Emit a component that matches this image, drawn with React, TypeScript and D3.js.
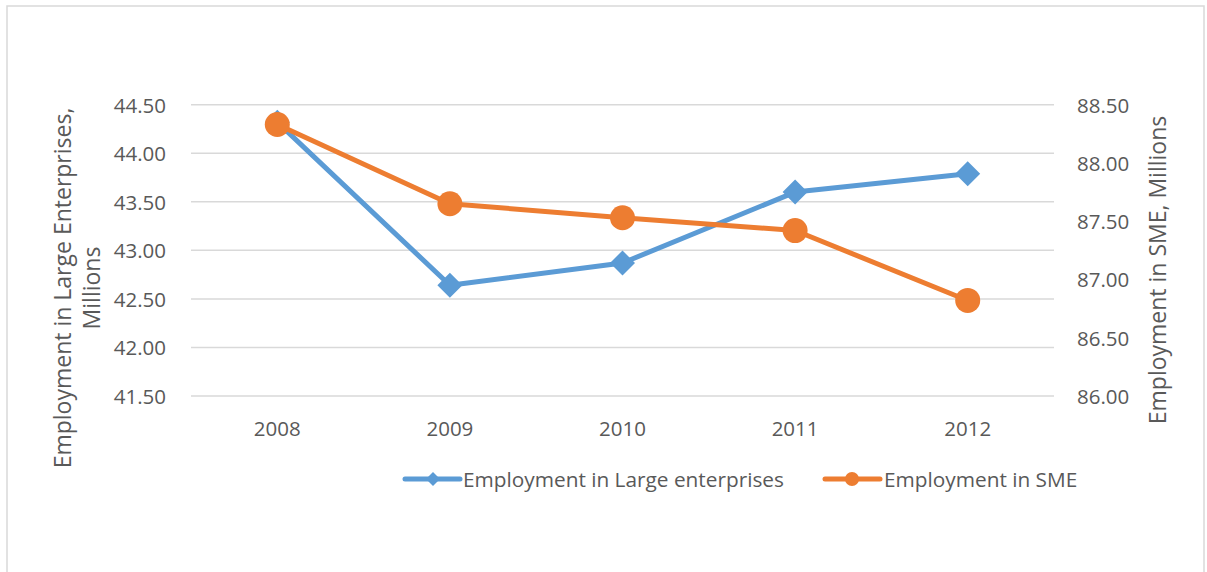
import React from "react";
import * as d3 from "d3";

const years = ["2008", "2009", "2010", "2011", "2012"];
const largeEmployment = [44.32, 42.64, 42.87, 43.6, 43.79];
const smeEmployment = [88.33, 87.65, 87.53, 87.42, 86.82];
const leftTicks = [41.5, 42.0, 42.5, 43.0, 43.5, 44.0, 44.5];
const rightTicks = [86.0, 86.5, 87.0, 87.5, 88.0, 88.5];
const seriesNames = ["Employment in Large enterprises", "Employment in SME"];

const W = 1207;
const H = 572;
const BLUE = "#5B9BD5";
const ORANGE = "#ED7D31";
const TEXT = "#595959";
const GRID = "#D9D9D9";
const FONT = "'Open Sans', 'Liberation Sans', sans-serif";

export default function App() {
  const plot = { left: 191, right: 1054, top: 104.7, bottom: 396 };

  const x = d3.scaleBand<string>().domain(years).range([plot.left, plot.right]);
  const cx = (y: string) => (x(y) as number) + x.bandwidth() / 2;
  const yL = d3.scaleLinear().domain([41.5, 44.5]).range([plot.bottom, plot.top]);
  const yR = d3.scaleLinear().domain([86, 88.5]).range([plot.bottom, plot.top]);

  const lineL = d3
    .line<number>()
    .x((_, i) => cx(years[i]))
    .y((v) => yL(v));
  const lineR = d3
    .line<number>()
    .x((_, i) => cx(years[i]))
    .y((v) => yR(v));

  const diamond = (px: number, py: number, r: number) =>
    `M${px},${py - r}L${px + r},${py}L${px},${py + r}L${px - r},${py}Z`;

  const legendY = 479;

  return (
    <svg
      width={W}
      height={H}
      style={{ position: "absolute", left: 0, top: 0, background: "#fff" }}
      fontFamily={FONT}
    >
      <rect x={7} y={6} width={1197} height={600} fill="#fff" stroke={GRID} strokeWidth={1.5} />

      {/* horizontal gridlines on the primary axis */}
      {leftTicks.map((t) => (
        <line
          key={"g" + t}
          x1={plot.left}
          x2={plot.right}
          y1={yL(t)}
          y2={yL(t)}
          stroke={GRID}
          strokeWidth={1.5}
        />
      ))}

      {/* left axis labels */}
      {leftTicks.map((t) => (
        <text
          key={"l" + t}
          x={166}
          y={yL(t)}
          textAnchor="end"
          dominantBaseline="central"
          fontSize={20.5}
          fill={TEXT}
        >
          {t.toFixed(2)}
        </text>
      ))}

      {/* right axis labels */}
      {rightTicks.map((t) => (
        <text
          key={"r" + t}
          x={1077}
          y={yR(t)}
          textAnchor="start"
          dominantBaseline="central"
          fontSize={20.5}
          fill={TEXT}
        >
          {t.toFixed(2)}
        </text>
      ))}

      {/* category labels */}
      {years.map((yr) => (
        <text
          key={"c" + yr}
          x={cx(yr)}
          y={428}
          textAnchor="middle"
          dominantBaseline="central"
          fontSize={20.5}
          fill={TEXT}
        >
          {yr}
        </text>
      ))}

      {/* axis titles */}
      <text
        transform={`translate(62,288) rotate(-90)`}
        textAnchor="middle"
        dominantBaseline="central"
        fontSize={23}
        fill={TEXT}
      >
        Employment in Large Enterprises,
      </text>
      <text
        transform={`translate(91,288) rotate(-90)`}
        textAnchor="middle"
        dominantBaseline="central"
        fontSize={23}
        fill={TEXT}
      >
        Millions
      </text>
      <text
        transform={`translate(1157,270) rotate(-90)`}
        textAnchor="middle"
        dominantBaseline="central"
        fontSize={23}
        fill={TEXT}
      >
        Employment in SME, Millions
      </text>

      {/* series: large enterprises */}
      <path d={lineL(largeEmployment) as string} fill="none" stroke={BLUE} strokeWidth={5} strokeLinejoin="round" />
      {largeEmployment.map((v, i) => (
        <path key={"d" + i} d={diamond(cx(years[i]), yL(v), 12.5)} fill={BLUE} />
      ))}

      {/* series: SME */}
      <path d={lineR(smeEmployment) as string} fill="none" stroke={ORANGE} strokeWidth={5} strokeLinejoin="round" />
      {smeEmployment.map((v, i) => (
        <circle key={"o" + i} cx={cx(years[i])} cy={yR(v)} r={12.5} fill={ORANGE} />
      ))}

      {/* legend */}
      <g>
        <line x1={405} x2={460} y1={legendY} y2={legendY} stroke={BLUE} strokeWidth={5} strokeLinecap="round" />
        <path d={diamond(433, legendY, 7)} fill={BLUE} />
        <text x={463} y={legendY} dominantBaseline="central" fontSize={20.8} fill={TEXT}>
          {seriesNames[0]}
        </text>
        <line x1={825} x2={880} y1={legendY} y2={legendY} stroke={ORANGE} strokeWidth={5} strokeLinecap="round" />
        <circle cx={852} cy={legendY} r={7} fill={ORANGE} />
        <text x={884} y={legendY} dominantBaseline="central" fontSize={20.8} fill={TEXT}>
          {seriesNames[1]}
        </text>
      </g>
    </svg>
  );
}
